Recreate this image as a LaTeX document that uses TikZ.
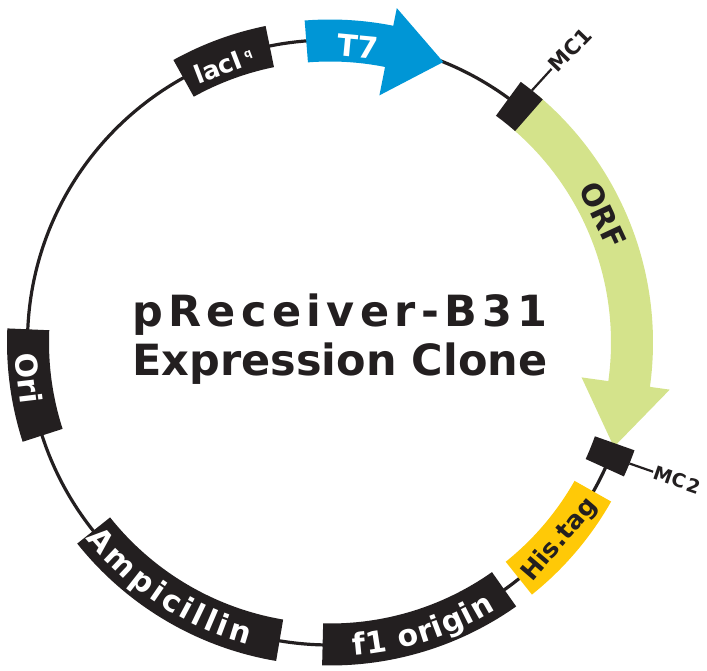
\documentclass[tikz,border=0pt]{standalone}
\usepackage{fontspec}
\setmainfont{DejaVu Sans}
\usetikzlibrary{decorations.text}
\definecolor{ink}{HTML}{231F20}
\definecolor{tsev}{HTML}{0096D6}
\definecolor{orfgreen}{HTML}{D4E38B}
\definecolor{hisyellow}{HTML}{FFC907}
\newcommand\plasband[3][ink]{\fill[#1] (#2:281) arc[start angle=#2,end angle=#3,radius=281] -- (#3:323) arc[start angle=#3,end angle=#2,radius=323] -- cycle;}
\tikzset{
  wtext/.style={text=white, inner sep=0pt, font=\bfseries\fontsize{30}{30}\selectfont},
  ktext/.style={text=ink, inner sep=0pt, font=\bfseries\fontsize{30}{30}\selectfont},
  mctext/.style={text=ink, inner sep=1pt, font=\bfseries\fontsize{21}{21}\selectfont},
  titletext/.style={text=ink, inner sep=0pt, font=\bfseries\fontsize{43}{43}\selectfont},
  mcline/.style={draw=ink, line width=2.2pt},
}
\begin{document}
\begin{tikzpicture}[x=1pt,y=1pt]
\useasboundingbox (0,0) rectangle (707,670);
\begin{scope}[shift={(330,327.5)}]
  \coordinate (C) at (0,0);
  % backbone
  \draw[ink, line width=3.2pt] (C) circle[radius=302.5];
  % T7 promoter arrow
  \fill[tsev] (94.5:323) arc[start angle=94.5,end angle=78.7,radius=323] -- (78.7:341) -- (68:302.5) -- (78.7:252) -- (78.7:281) arc[start angle=78.7,end angle=94.5,radius=281] -- cycle;
  % ORF arrow
  \fill[orfgreen] (50:323) arc[start angle=50,end angle=-7.9,radius=323] -- (-7.9:343) -- (-20.2:302.5) -- (-7.9:254) -- (-7.9:281) arc[start angle=-7.9,end angle=50,radius=281] -- cycle;
  % feature boxes
  \plasband{101.5}{119}
  \plasband{48.8}{53.8}
  \plasband{-19.5}{-24.5}
  \plasband[hisyellow]{-29.5}{-51.3}
  \plasband{-54.8}{-91.4}
  \plasband{218.5}{260.4}
  \plasband{177.5}{197.9}
  % labels on features
  \node[wtext, rotate=-5.4] (t7) at (84.6:297) {T7};
  \node[wtext, font=\bfseries\fontsize{25}{25}\selectfont, rotate=21] (lacI) at (111:297) {lacI\kern4pt\raisebox{8pt}{\fontsize{11}{11}\selectfont q}};
  \node[ktext, rotate=-65] (orf) at (25:301.5) {ORF};
  \node[wtext, rotate=-83.2] (ori) at (186.8:303.5) {Ori};
  \node[ktext, font=\bfseries\fontsize{25}{25}\selectfont, rotate=49.4] (his) at (-40.65:303) {His.tag};
  \path[decorate, decoration={text along path, text align=fit to path,
      text={|\bfseries\fontsize{30}{30}\selectfont\color{white}|f1 origin}}]
      (-85.7:314) arc[start angle=-85.7,end angle=-58.2,radius=314];
  \path[decorate, decoration={text along path, text align=fit to path,
      text={|\bfseries\fontsize{30}{30}\selectfont\color{white}|Ampicillin}}]
      (218.7:313) arc[start angle=218.7,end angle=254.8,radius=313];
  % MC sites
  \coordinate (mc1box) at (51.3:323);
  \coordinate (mc1end) at (51:352);
  \node[mctext, anchor=west, rotate=46] (mc1) at (mc1end) {MC1};
  \draw[mcline] (mc1box) -- (mc1end);
  \coordinate (mc2box) at (-22:323);
  \coordinate (mc2end) at (-21.8:348);
  \node[mctext, font=\bfseries\fontsize{19}{19}\selectfont, anchor=west, rotate=-19] (mc2) at (mc2end) {MC\kern2pt 2};
  \draw[mcline] (mc2box) -- (mc2end);
\end{scope}
% title
\node[titletext, anchor=base] (title1) at (340,343.3) {\addfontfeature{LetterSpace=12.5}pReceiver-B31};
\node[titletext, anchor=base] (title2) at (340,294.3) {Expression Clone};
\end{tikzpicture}
\end{document}
